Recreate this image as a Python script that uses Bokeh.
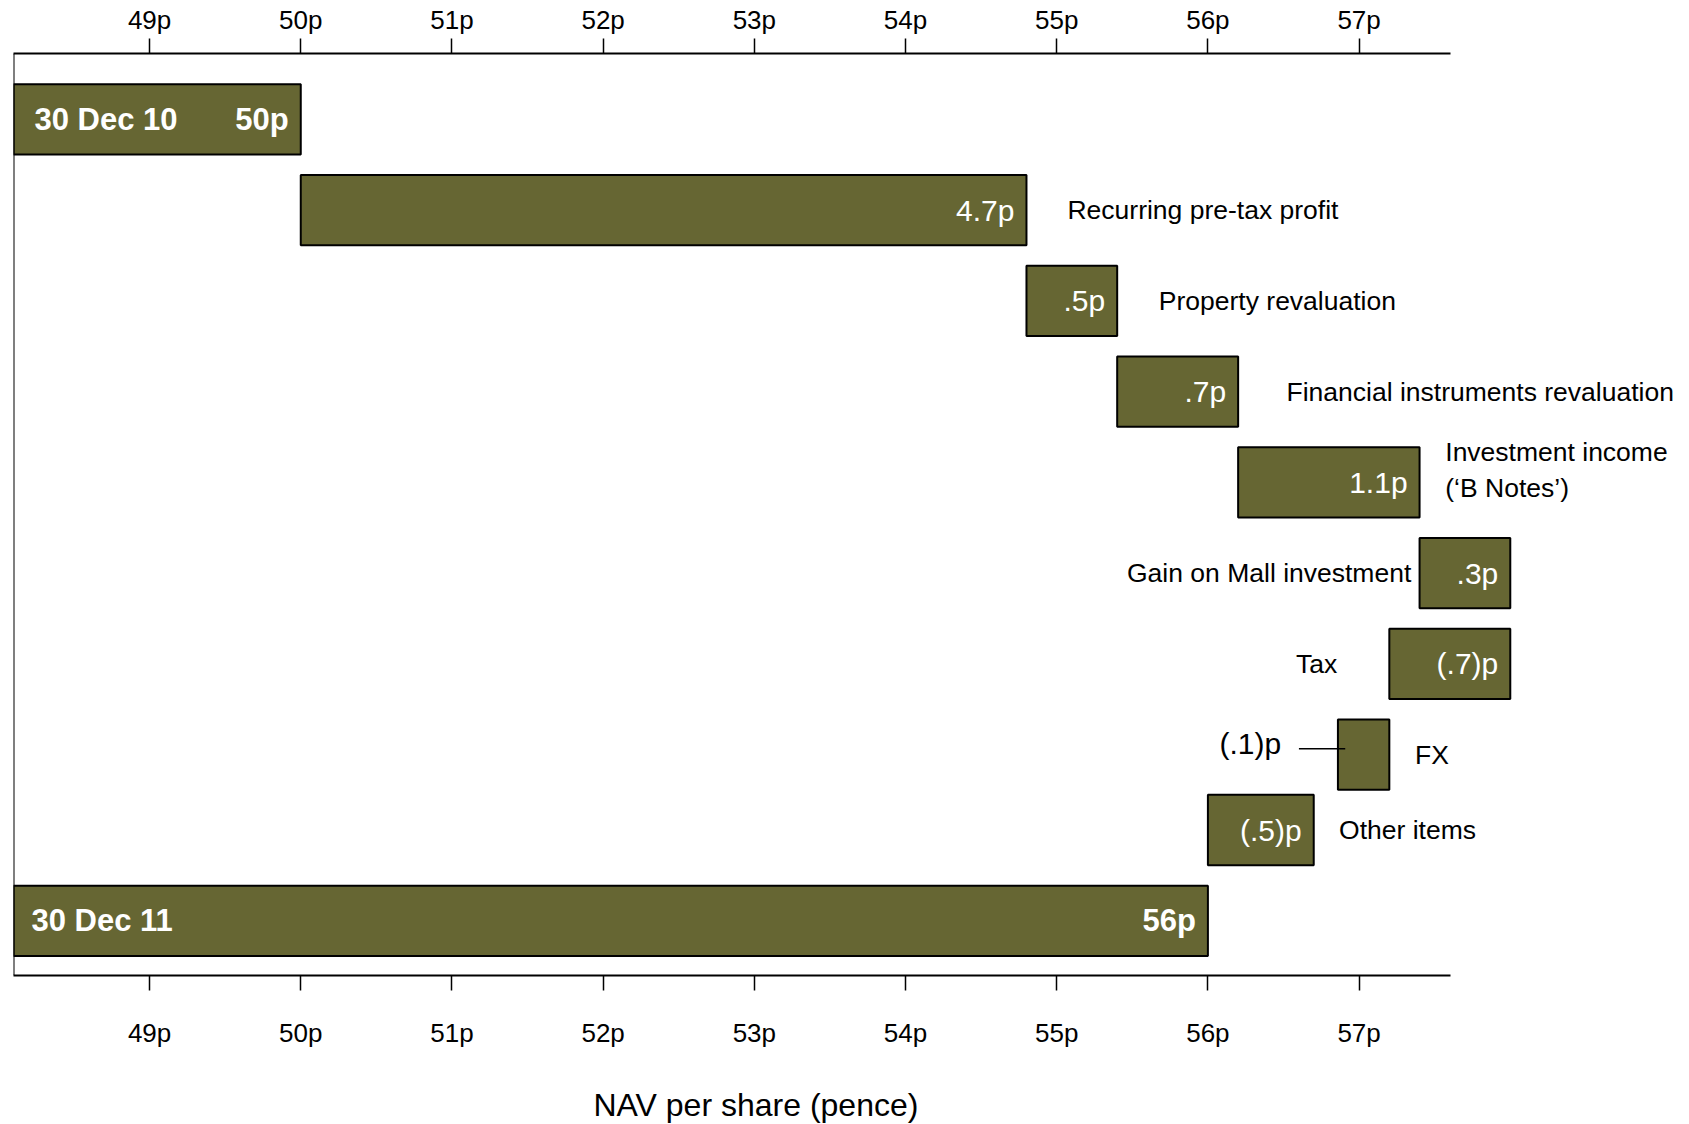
from bokeh.plotting import figure
from bokeh.models import Range1d, LinearAxis, FixedTicker, Span, ColumnDataSource, Title
from bokeh.core.properties import value
from bokeh.embed import file_html
from bokeh.resources import INLINE

# ---------------- data ----------------
steps = ["30 Dec 10", "Recurring pre-tax profit", "Property revaluation",
         "Financial instruments revaluation", "Investment income\n(\u2018B Notes\u2019)",
         "Gain on Mall investment", "Tax", "FX", "Other items", "30 Dec 11"]
bar_lo = [None, 50.0, 54.8, 55.4, 56.2, 57.4, 57.2, 56.86, 56.0, None]
bar_hi = [50.0, 54.8, 55.4, 56.2, 57.4, 58.0, 58.0, 57.2, 56.7, 56.0]
value_labels = ["50p", "4.7p", ".5p", ".7p", "1.1p", ".3p", "(.7)p", "(.1)p", "(.5)p", "56p"]
tick_values = [49, 50, 51, 52, 53, 54, 55, 56, 57]
tick_labels = ["49p", "50p", "51p", "52p", "53p", "54p", "55p", "56p", "57p"]
axis_title = "NAV per share (pence)"

# ---------------- layout / style ----------------
FONT = value("Liberation Sans")
OLIVE = "#666633"
W, H = 1687, 1124
MB_TOP, MB_BOTTOM, MB_LEFT, MB_RIGHT = 53, 149, 13, 0
X_MIN = 48.1
PX_PER_UNIT = 151.19
X_MAX = X_MIN + (W - MB_LEFT - MB_RIGHT) / PX_PER_UNIT
AXIS_END = 57.606
ROW_PX = 90.77
Y_TOP = -0.725
Y_BOTTOM = Y_TOP + (H - MB_TOP - MB_BOTTOM) / ROW_PX
row_pos = [0, 1, 2, 3, 4, 5, 6, 7, 7.83, 8.83]
BAR_H = 0.775

p = figure(width=W, height=H, output_backend="svg", toolbar_location=None,
           x_axis_location="above", y_axis_location=None,
           x_range=Range1d(X_MIN, X_MAX), y_range=Range1d(Y_BOTTOM, Y_TOP),
           min_border_top=MB_TOP, min_border_bottom=MB_BOTTOM,
           min_border_left=MB_LEFT, min_border_right=MB_RIGHT,
           background_fill_color="white", border_fill_color="white")
p.outline_line_color = None
p.xgrid.visible = False
p.ygrid.visible = False

bottom_axis = LinearAxis()
p.add_layout(bottom_axis, "below")

for ax, standoff in ((p.xaxis[0], 4), (bottom_axis, 27)):
    ax.ticker = FixedTicker(ticks=tick_values)
    ax.major_label_overrides = {t: l for t, l in zip(tick_values, tick_labels)}
    ax.bounds = (X_MIN, AXIS_END)
    ax.axis_line_width = 2
    ax.axis_line_color = "black"
    ax.major_tick_line_width = 1.5
    ax.major_tick_line_color = "black"
    ax.major_tick_in = 0
    ax.major_tick_out = 15
    ax.minor_tick_line_color = None
    ax.major_label_standoff = standoff
    ax.major_label_text_font = "Liberation Sans"
    ax.major_label_text_font_size = "26px"
    ax.major_label_text_color = "black"

# axis title: the leading empty line leaves the gap below the tick labels
p.add_layout(Title(text="\n" + axis_title, align="left", offset=580, standoff=0,
                   vertical_align="top", text_font="Liberation Sans",
                   text_font_size="32px", text_font_style="normal",
                   text_line_height=1.0, text_color="black"), "below")

# left spine
p.add_layout(Span(location=X_MIN, dimension="height", line_color="black", line_width=2))

# ---------------- bars ----------------
lefts = [X_MIN if lo is None else lo for lo in bar_lo]
bars = ColumnDataSource(dict(y=row_pos, left=lefts, right=bar_hi))
p.hbar(y="y", left="left", right="right", height=BAR_H, source=bars,
       fill_color=OLIVE, line_color="black", line_width=2)

# connector for FX value label
fx = steps.index("FX")
p.segment(x0=[bar_lo[fx] - 39 / PX_PER_UNIT], x1=[bar_lo[fx] + 7.3 / PX_PER_UNIT],
          y0=[row_pos[fx] - 6 / ROW_PX], y1=[row_pos[fx] - 6 / ROW_PX],
          line_color="black", line_width=1.5)

# ---------------- texts ----------------
totals = [0, len(steps) - 1]
p.text(x=[X_MIN] * 2, y=[row_pos[i] for i in totals], text=[steps[i] for i in totals],
       x_offset=[21, 18], text_font=FONT, text_font_size="31px", text_font_style="bold",
       text_color="white", text_align="left", text_baseline="middle")
p.text(x=[bar_hi[i] for i in totals], y=[row_pos[i] for i in totals],
       text=[value_labels[i] for i in totals], x_offset=-12,
       text_font=FONT, text_font_size="31px", text_font_style="bold",
       text_color="white", text_align="right", text_baseline="middle")

inside = [1, 2, 3, 4, 5, 6, 8]
p.text(x=[bar_hi[i] for i in inside], y=[row_pos[i] for i in inside],
       text=[value_labels[i] for i in inside], x_offset=-12,
       text_font=FONT, text_font_size="30px", text_color="white",
       text_align="right", text_baseline="middle")

p.text(x=[bar_lo[fx]], y=[row_pos[fx]], text=[value_labels[fx]],
       x_offset=-56.7, y_offset=-10.7, text_font=FONT, text_font_size="30px",
       text_color="black", text_align="right", text_baseline="middle")

right_side = [1, 2, 3, 4, 7, 8]
rs = ColumnDataSource(dict(x=[bar_hi[i] for i in right_side], y=[row_pos[i] for i in right_side],
                           t=[steps[i] for i in right_side],
                           xo=[41, 41.6, 48.4, 25.7, 25.7, 25.3],
                           yo=[0, 0, 0, -12.3, 0, 0]))
p.text(x="x", y="y", text="t", x_offset="xo", y_offset="yo", source=rs,
       text_font=FONT, text_font_size="26.5px", text_color="black",
       text_align="left", text_baseline="middle", text_line_height=1.2)

left_side = [5, 6]
ls = ColumnDataSource(dict(x=[bar_lo[i] for i in left_side], y=[row_pos[i] for i in left_side],
                           t=[steps[i] for i in left_side], xo=[-8.3, -52]))
p.text(x="x", y="y", text="t", x_offset="xo", source=ls,
       text_font=FONT, text_font_size="26.5px", text_color="black",
       text_align="right", text_baseline="middle")

open("out.html", "w").write(file_html(p, INLINE))
